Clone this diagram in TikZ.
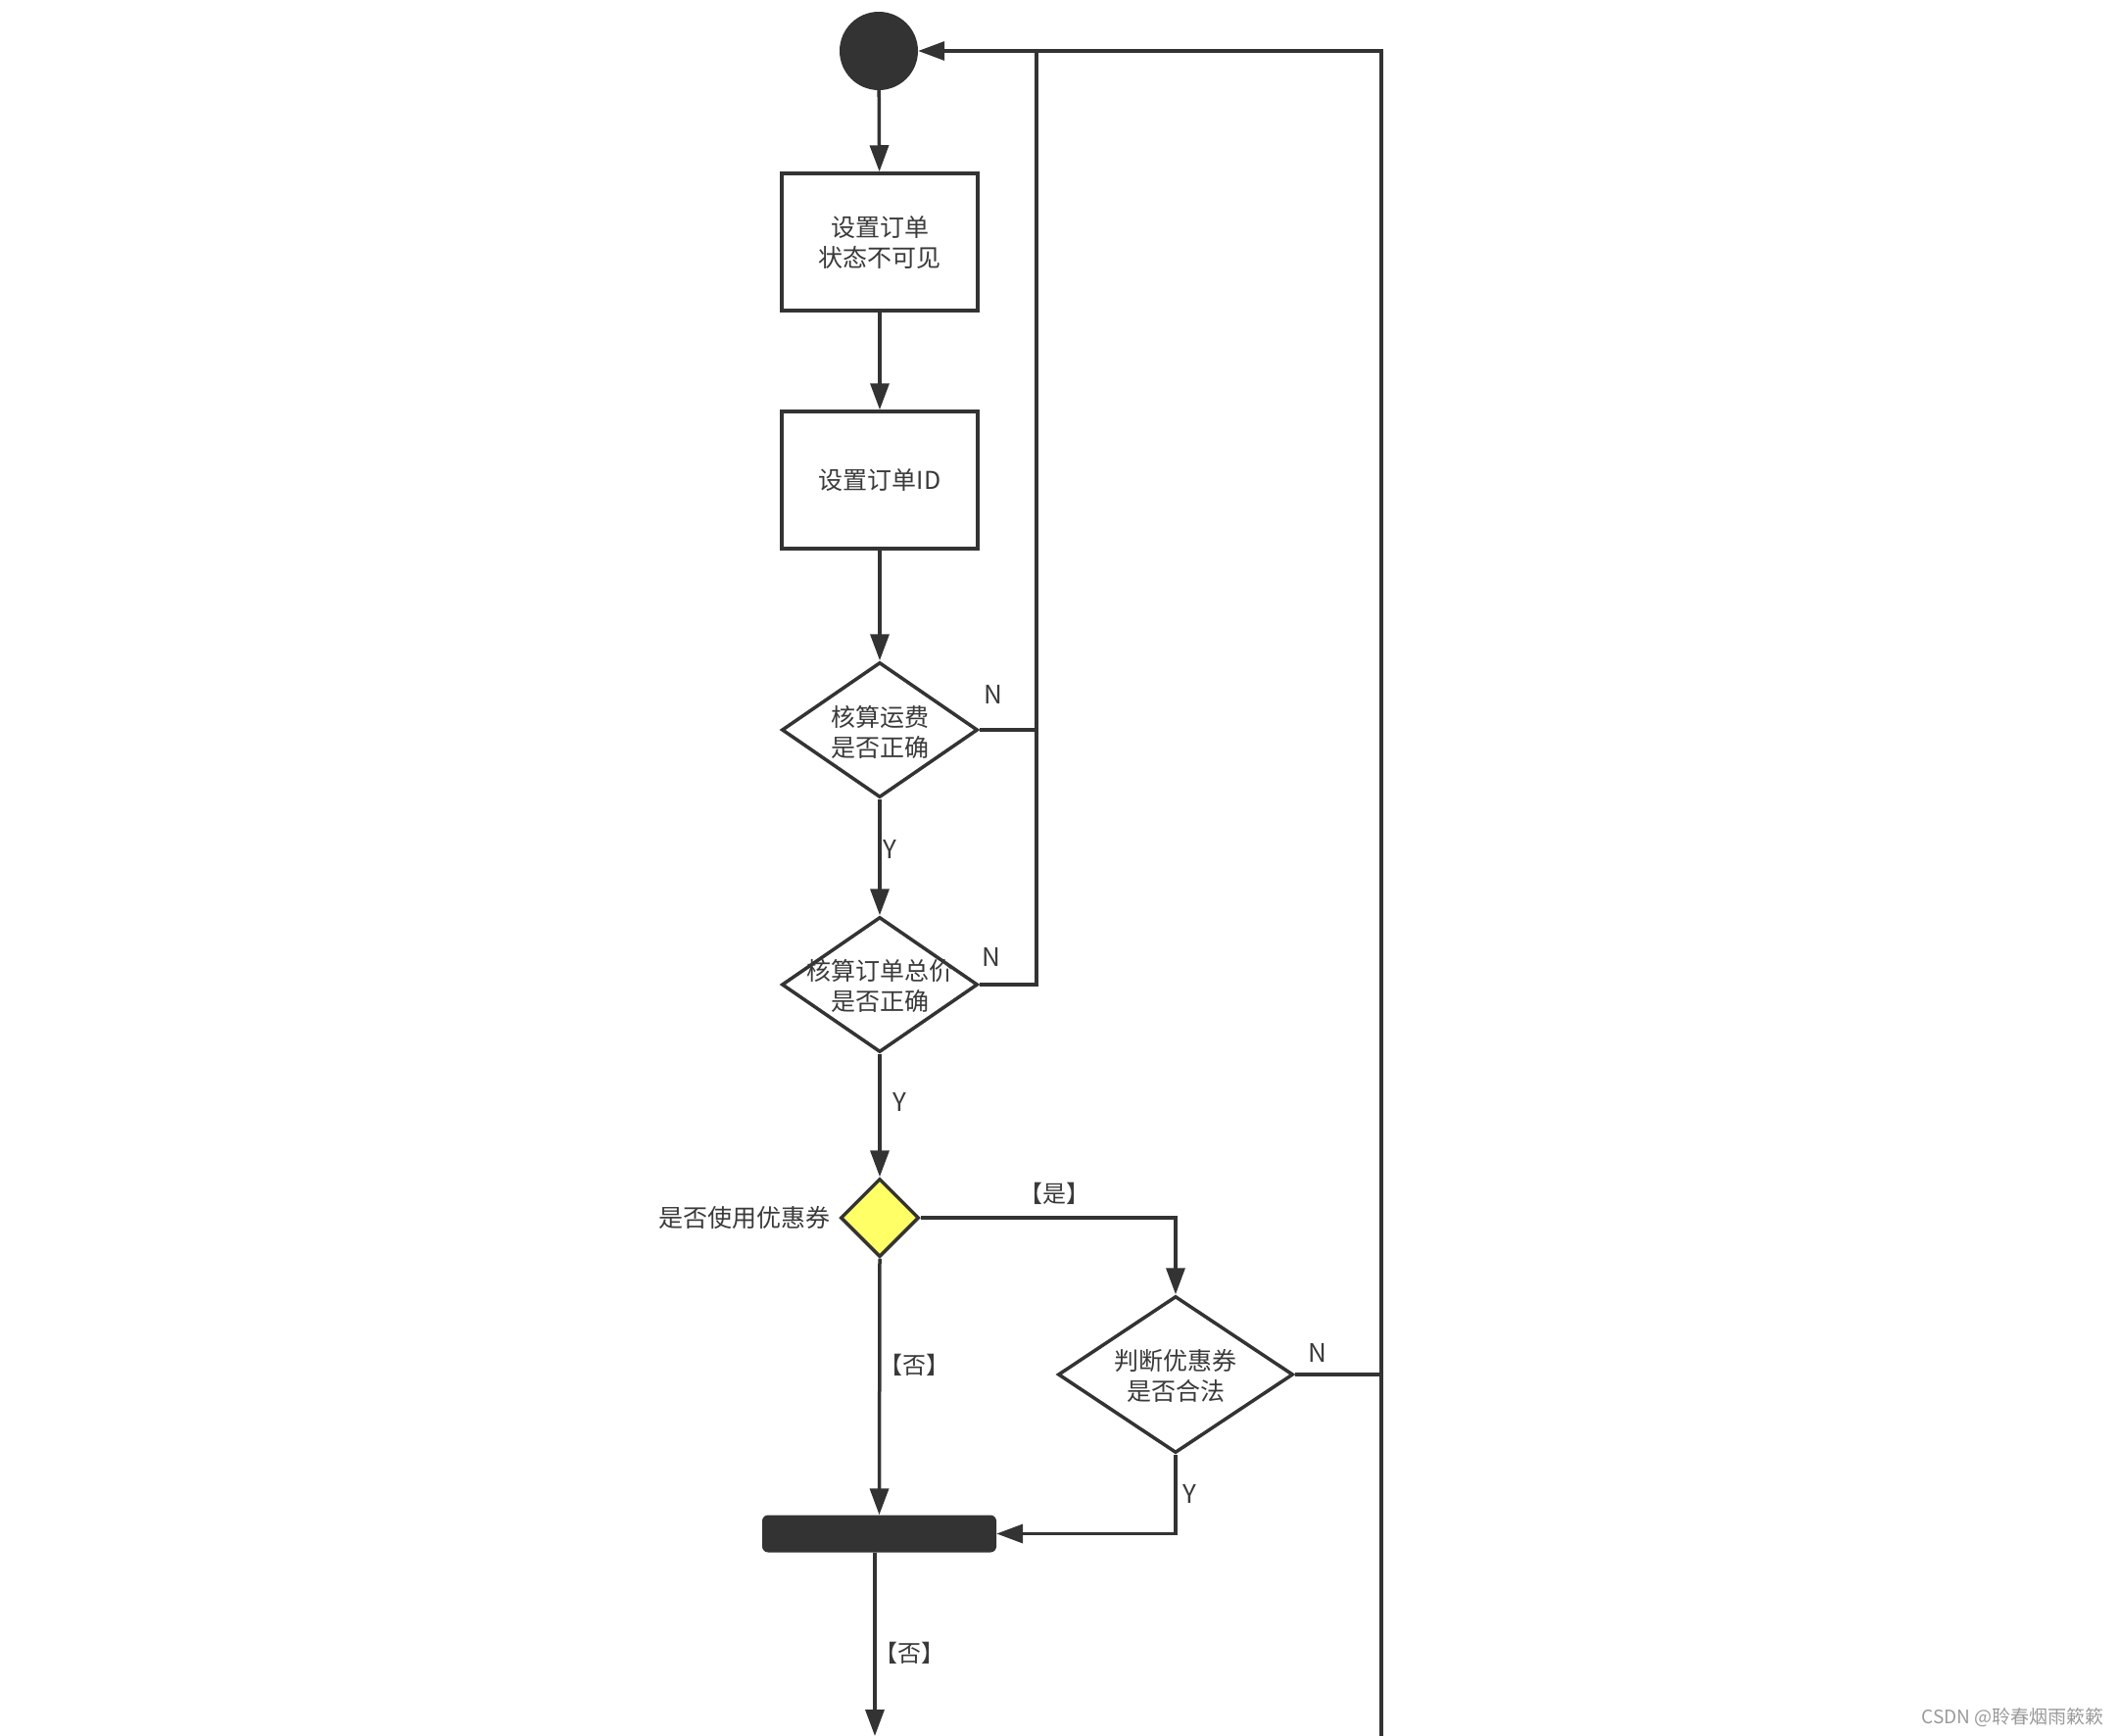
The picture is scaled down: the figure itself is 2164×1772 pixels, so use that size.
\documentclass[tikz,border=0pt]{standalone}
\usepackage{fontspec}
\setmainfont{Noto Sans CJK SC}
\usetikzlibrary{arrows.meta,shapes.geometric}
\definecolor{ln}{HTML}{333333}
\definecolor{tx}{HTML}{3A3A3A}
\definecolor{yel}{HTML}{FFFF66}
\definecolor{wm}{HTML}{9A9A9A}
\begin{document}
\begin{tikzpicture}[x=1pt,y=-1pt,
  conn/.style={draw=ln, line width=3.5pt},
  arr/.style={conn, -{Triangle[length=27pt,width=19pt]}},
  actbox/.style={rectangle, draw=ln, line width=3.5pt, minimum width=200pt, minimum height=140pt, inner sep=0pt},
  decision/.style={diamond, draw=ln, line width=3.5pt, inner sep=0pt},
  txt/.style={text=tx, align=center, font=\fontsize{25}{31}\selectfont, inner sep=0pt},
  lbl/.style={text=tx, font=\fontsize{26}{30}\selectfont, inner sep=0pt},
  blbl/.style={text=tx, font=\fontsize{24}{28}\selectfont, inner sep=0pt}]
\useasboundingbox (0,0) rectangle (2164,1772);
\fill[white] (0,0) rectangle (2164,1772);

% nodes
\node[circle, fill=ln, minimum size=80pt, inner sep=0pt] (start) at (897,52) {};
\node[actbox] (box1) at (898,247) {};
\node[txt] (box1t) at (898,248) {设置订单\\状态不可见};
\node[actbox] (box2) at (898,490) {};
\node[txt] (box2t) at (898,490) {设置订单ID};
\node[decision, minimum width=200pt, minimum height=138pt] (d1) at (898,745) {};
\node[txt] (d1t) at (898,747) {核算运费\\是否正确};
\node[decision, minimum width=200pt, minimum height=138pt] (d2) at (898,1005) {};
\node[txt] (d2t) at (898,1006) {核算订单总价\\是否正确};
\node[decision, fill=yel, minimum width=80pt, minimum height=80pt] (dy) at (898,1243) {};
\node[txt, anchor=east] (dyt) at (848,1243) {是否使用优惠券};
\node[decision, minimum width=240pt, minimum height=160pt] (d3) at (1200,1403) {};
\node[txt] (d3t) at (1200,1404) {判断优惠券\\是否合法};
\node[rectangle, rounded corners=6pt, fill=ln, minimum width=239pt, minimum height=38pt, inner sep=0pt] (bar) at (897.5,1565.5) {};

\coordinate (j1) at (1058,52);
\coordinate (j2) at (1410,52);
\coordinate (bot) at (1410,1772);
\coordinate (endc) at (893,1772);

% connectors
\draw[arr] (start) -- (box1);
\draw[arr] (box1) -- (box2);
\draw[arr] (box2) -- (d1);
\draw[arr] (d1) -- (d2);
\draw[arr] (d2) -- (dy);
\draw[conn] (d1.east) -- (d1.east -| j1) -- (j1);
\draw[conn] (d2.east) -- (d2.east -| j1) -- (j1);
\draw[arr] (d3.east) -| (j2) -- (start.east);
\draw[conn] (d3.east -| j2) -- (bot);
\draw[arr] (dy.east) -| (d3.north);
\draw[arr] (dy.south) -- (bar.north);
\draw[arr] (d3.south) |- (bar.east);
\draw[arr] (bar.south -| endc) -- (endc);

% labels
\node[lbl] (n1) at (1014,709) {N};
\node[lbl] (n2) at (1012,977) {N};
\node[lbl] (n3) at (1345,1381) {N};
\node[lbl] (y1) at (908,867) {Y};
\node[lbl] (y2) at (918,1125) {Y};
\node[lbl] (y3) at (1214,1525) {Y};
\node[blbl] (shi) at (1076,1218) {【是】};
\node[blbl] (fou1) at (933,1393) {【否】};
\node[blbl] (fou2) at (928,1687) {【否】};
\node[text=wm, font=\fontsize{19}{22}\selectfont, inner sep=0pt, anchor=east] (wmk) at (2148,1753) {CSDN @聆春烟雨簌簌};
\end{tikzpicture}
\end{document}
